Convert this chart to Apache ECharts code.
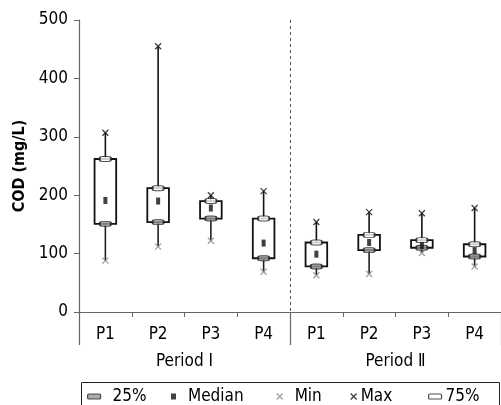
<!DOCTYPE html>
<html>
<head>
<meta charset="utf-8">
<script src="https://cdn.jsdelivr.net/npm/echarts@6/dist/echarts.min.js"></script>
<style>html,body{margin:0;padding:0;background:#fff;}#c{width:501px;height:405px;}</style>
</head>
<body>
<div id="c"></div>
<script>
var categories = ['P1','P2','P3','P4','P1','P2','P3','P4'];
var periods = ['Period Ⅰ','Period Ⅱ'];
var yTicks = [0,100,200,300,400,500];
var minVals    = [88, 112, 122, 69, 63, 65, 101, 78];
var q1Vals     = [151, 154, 160, 92, 78, 106, 110, 95];
var medianVals = [191, 190, 178, 118, 99, 119, 114, 105];
var q3Vals     = [262, 212, 190, 160, 119, 132, 123, 116];
var maxVals    = [307, 455, 200, 207, 154, 171, 169, 178];

var FONT = 'DejaVu Sans Condensed';
var AX = '#666';
var crossPath = 'path://M0,0L10,10M10,0L0,10';

var boxData = categories.map(function(c,i){
  return [i, minVals[i], q1Vals[i], medianVals[i], q3Vals[i], maxVals[i]];
});

function renderBox(params, api){
  var i = api.value(0);
  var pMin = api.coord([i, api.value(1)]);
  var pQ1 = api.coord([i, api.value(2)]);
  var pQ3 = api.coord([i, api.value(4)]);
  var pMax = api.coord([i, api.value(5)]);
  var bw = api.size([1,0])[0]*0.41;
  var x = pQ1[0];
  return {type:'group', children:[
    {type:'line', shape:{x1:x,y1:pMax[1],x2:x,y2:pQ3[1]}, style:{stroke:'#111',lineWidth:1.6}},
    {type:'line', shape:{x1:x,y1:pQ1[1],x2:x,y2:pMin[1]}, style:{stroke:'#222',lineWidth:1.6}},
    {type:'rect', shape:{x:x-bw/2,y:pQ3[1],width:bw,height:pQ1[1]-pQ3[1]}, style:{fill:'#fff',stroke:'#111',lineWidth:1.8}}
  ]};
}

function pts(arr){ return arr.map(function(v,i){ return [i, v]; }); }

var legendDefs = [
  {name:'25%', left:87, w:13, h:5},
  {name:'Median', left:171, w:5, h:6},
  {name:'Min', left:276, w:6, h:6},
  {name:'Max', left:350, w:6, h:6},
  {name:'75%', left:428, w:13, h:5}
];
var legendStyles = {
  '25%': {color:'#999', borderColor:'#222', borderWidth:1.2},
  'Median': {color:'#111', borderWidth:0},
  'Min': {color:'#888', borderColor:'#888', borderWidth:1.3},
  'Max': {color:'#111', borderColor:'#111', borderWidth:1.3},
  '75%': {color:'#fff', borderColor:'#222', borderWidth:1.2}
};
var gaps = {'25%':12,'Median':12,'Min':12,'Max':4,'75%':4};

var legends = legendDefs.map(function(d){
  return {
    data:[d.name], left:d.left, top:388, padding:0,
    itemWidth:d.w, itemHeight:d.h, selectedMode:false,
    itemStyle: legendStyles[d.name],
    textStyle:{fontFamily:FONT, fontSize:17, color:'#000', padding:[0,0,0,gaps[d.name]-5]}
  };
});

var chart = echarts.init(document.getElementById('c'), null, {renderer:'canvas'});
chart.setOption({
  animation:false,
  backgroundColor:'#fff',
  grid:{left:79, right:-12, top:20, bottom:93, containLabel:false},
  legend: legends,
  graphic:[{type:'rect', left:79, top:380, shape:{width:418, height:40}, style:{fill:'none', stroke:'#222', lineWidth:1}, silent:true}],
  xAxis:[{
    type:'category', data:categories, boundaryGap:true,
    axisLine:{show:true, lineStyle:{color:AX, width:1.2}},
    axisTick:{show:true, length:5, lineStyle:{color:AX}},
    axisLabel:{fontFamily:FONT, fontSize:17, color:'#000', margin:14},
    splitLine:{show:false}
  },{
    type:'category', data:periods, position:'bottom', boundaryGap:true,
    axisLine:{show:false},
    axisTick:{show:true, length:33, lineStyle:{color:AX, width:1.2}},
    axisLabel:{fontFamily:FONT, fontSize:17, color:'#000', margin:41},
    splitLine:{show:true, lineStyle:{color:'#555', width:1, type:[3,3]}}
  }],
  yAxis:{
    type:'value', min:0, max:500, interval:100,
    name:'COD (mg/L)', nameLocation:'middle', nameGap:47,
    nameTextStyle:{fontFamily:FONT, fontSize:16, fontWeight:'bold', color:'#000'},
    axisLine:{show:true, lineStyle:{color:AX, width:1.2}},
    axisTick:{show:true, length:5, lineStyle:{color:AX}},
    axisLabel:{fontFamily:FONT, fontSize:17, color:'#000', margin:11,
      formatter:function(v){ return yTicks.indexOf(v) >= 0 ? String(v) : ''; }},
    splitLine:{show:false}
  },
  series:[
    {type:'custom', name:'box', renderItem:renderBox, data:boxData, encode:{x:0, y:[1,2,3,4,5]}, z:2},
    {type:'scatter', name:'25%', data:pts(q1Vals), symbol:'roundRect', symbolSize:[11,5],
      itemStyle:{color:'#999', borderColor:'#222', borderWidth:1.3}, z:5},
    {type:'scatter', name:'75%', data:pts(q3Vals), symbol:'roundRect', symbolSize:[11,5],
      itemStyle:{color:'#fff', borderColor:'#222', borderWidth:1.3}, z:5},
    {type:'scatter', name:'Median', data:pts(medianVals), symbol:'rect', symbolSize:[4,7],
      itemStyle:{color:'#111'}, z:6},
    {type:'scatter', name:'Min', data:pts(minVals), symbol:crossPath, symbolSize:6,
      itemStyle:{color:'#888', borderColor:'#888', borderWidth:1.3}, z:6},
    {type:'scatter', name:'Max', data:pts(maxVals), symbol:crossPath, symbolSize:6,
      itemStyle:{color:'#111', borderColor:'#111', borderWidth:1.3}, z:6}
  ]
});
</script>
</body>
</html>
